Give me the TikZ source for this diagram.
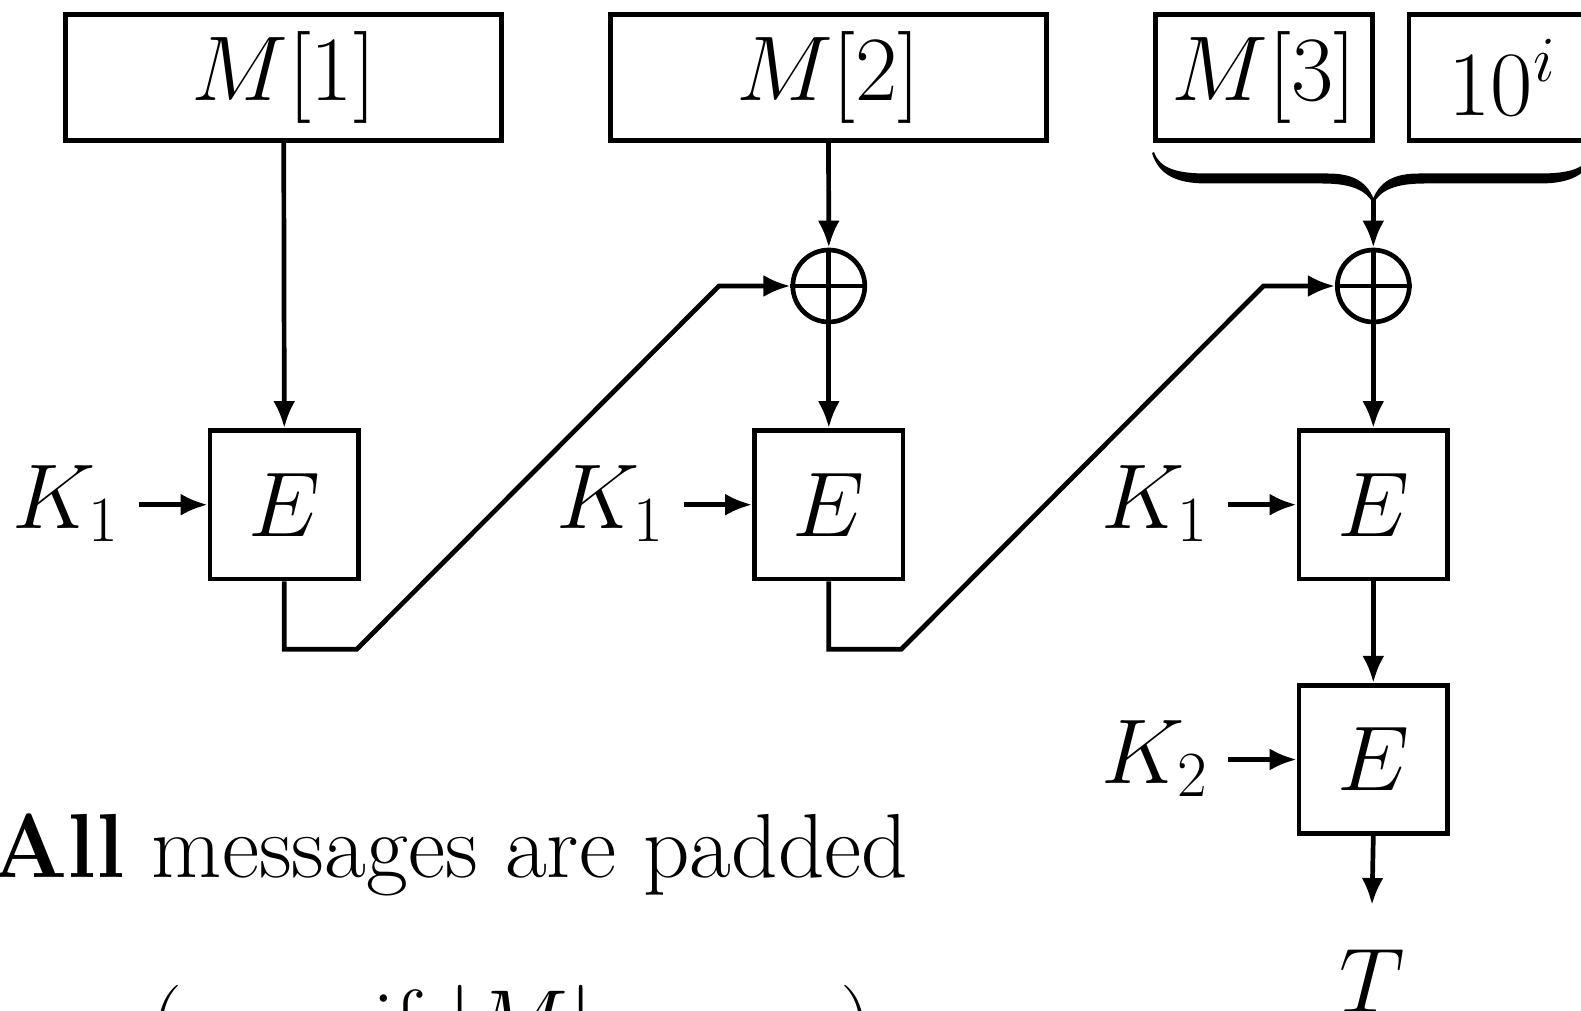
\RequirePackage{fix-cm}
\documentclass[tikz,border=0pt]{standalone}
\usetikzlibrary{arrows.meta,calc}
\begin{document}
\begin{tikzpicture}[x=1pt,y=-1pt,
  every node/.style={font=\fontsize{92}{110}\selectfont},
  wire/.style={line width=4.7pt},
  arr/.style={wire,-{Latex[length=27pt,width=22pt]}},
  blk/.style={draw,wire,rectangle,minimum width=148.5pt,minimum height=148.5pt,inner sep=0pt},
  msg/.style={draw,wire,rectangle,minimum height=126.5pt,inner sep=0pt},
  xorc/.style={draw,wire,circle,minimum size=72pt,inner sep=0pt},
  key/.style={anchor=base east,inner ysep=0pt,inner xsep=20pt},
  note/.style={anchor=base west,inner sep=0pt,font=\fontsize{91}{108}\selectfont}
]
\useasboundingbox (0,0) rectangle (1581,1011);
\clip (0,0) rectangle (1581,1011);

% message blocks
\node[msg,minimum width=436pt] (m1) at (283.75,77.5) {$M[1]$};
\node[msg,minimum width=436pt] (m2) at (828.5,77.5) {$M[2]$};
\node[msg,minimum width=216.5pt] (m3) at (1264,77.5) {$M[3]$};
\node[msg,minimum width=186pt] (pad) at (1502,77.5) {$10^i$};

% brace joining the last block and its padding
\fill (1154,152) .. controls (1160,169) and (1178,173.5) .. (1207,173.5)
  -- (1328,173.5) .. controls (1352,173.5) and (1366,181) .. (1373.3,198)
  .. controls (1380.6,181) and (1394.6,173.5) .. (1418.6,173.5)
  -- (1539.6,173.5) .. controls (1568.6,173.5) and (1586.6,169) .. (1592.6,152)
  -- (1594.6,153) .. controls (1588,175) and (1570,183.5) .. (1539.6,183.5)
  -- (1424,183.5) .. controls (1396,183.5) and (1380,190) .. (1373.3,204)
  .. controls (1366.6,190) and (1350.6,183.5) .. (1322.6,183.5)
  -- (1207,183.5) .. controls (1176.6,183.5) and (1158.6,175) .. (1152,153) -- cycle;
\coordinate (bt) at (1373.3,200);

% xor gates
\node[xorc] (x1) at (828.8,286) {};
\node[xorc] (x2) at (1373.3,286) {};
\draw[wire] (x1.north) -- (x1.south) (x1.west) -- (x1.east);
\draw[wire] (x2.north) -- (x2.south) (x2.west) -- (x2.east);

% block cipher calls
\node[blk] (e1) at (284.3,504.7) {$E$};
\node[blk] (e2) at (828.8,504.7) {$E$};
\node[blk] (e3) at (1373.3,504.7) {$E$};
\node[blk] (e4) at (1373.3,759.5) {$E$};

% keys
\node[key] (k1) at (139,528) {$K_1$};
\node[key] (k2) at (683.5,528) {$K_1$};
\node[key] (k3) at (1228,528) {$K_1$};
\node[key] (k4) at (1228,783) {$K_2$};
\draw[arr] (k1.east |- e1.west) -- (e1.west);
\draw[arr] (k2.east |- e2.west) -- (e2.west);
\draw[arr] (k3.east |- e3.west) -- (e3.west);
\draw[arr] (k4.east |- e4.west) -- (e4.west);

% tag
\node[anchor=base,inner sep=0pt,inner ysep=44pt] (t) at (1372,1012) {$T$};

% data flow
\draw[arr] (m1.south) -- (e1.north);
\draw[arr] (m2.south) -- (x1.north);
\draw[arr] (x1.south) -- (e2.north);
\draw[arr] (bt) -- (x2.north);
\draw[arr] (x2.south) -- (e3.north);
\draw[arr] (e3.south) -- (e4.north);
\draw[arr] (e4.south) -- (t.north);
\draw[arr,line join=miter] (e1.south) |- ++(72.4,68) -- ($(x1.west)+(-71.5,0)$) -- (x1.west);
\draw[arr,line join=miter] (e2.south) |- ++(72.4,68) -- ($(x2.west)+(-71.5,0)$) -- (x2.west);

% remarks
\node[note] (n1) at (-10,877) {\textbf{All} messages are padded};
\node[note] (n2) at (150,1053) {(even if $|M| = mn$)};
\end{tikzpicture}
\end{document}
